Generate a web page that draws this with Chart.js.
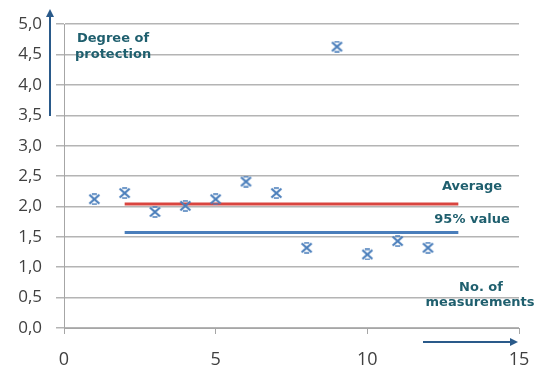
<!DOCTYPE html>
<html>
<head>
<meta charset="utf-8">
<script src="https://cdn.jsdelivr.net/npm/chart.js@4"></script>
<style>
  html, body { margin: 0; padding: 0; background: #fff; }
  #wrap { width: 538px; height: 374px; }
</style>
</head>
<body>
<div id="wrap"><canvas id="protectionChart" width="538" height="374"></canvas></div>
<script>
// values
const measurement_no = [1, 2, 3, 4, 5, 6, 7, 8, 9, 10, 11, 12]
const protection_degree = [2.12, 2.22, 1.91, 2.01, 2.12, 2.41, 2.22, 1.32, 4.63, 1.21, 1.43, 1.32]
const line_x = [2, 13]
const average_y = [2.04, 2.04]
const value_95_y = [1.57, 1.57]
const x_ticks = [0, 5, 10, 15]

const markerBlue = '#4a7ebb'
const textTeal = '#1f5f6e'

// excel style "star" marker: X with short bars top and bottom
function starMarker() {
  const c = document.createElement('canvas')
  c.width = 13; c.height = 12
  const g = c.getContext('2d')
  g.strokeStyle = markerBlue
  g.lineWidth = 2.2
  g.beginPath()
  g.moveTo(1.5, 1.5); g.lineTo(11.5, 10.5)
  g.moveTo(11.5, 1.5); g.lineTo(1.5, 10.5)
  g.stroke()
  g.lineWidth = 1.6
  g.beginPath()
  g.moveTo(4, 1); g.lineTo(9, 1)
  g.moveTo(4, 11); g.lineTo(9, 11)
  g.stroke()
  return c
}

const points = measurement_no.map(function(x, i){ return {x: x, y: protection_degree[i]} })
const averageLine = line_x.map(function(x, i){ return {x: x, y: average_y[i]} })
const value95Line = line_x.map(function(x, i){ return {x: x, y: value_95_y[i]} })

// arrows + annotation text
const annotations = {
  id: 'annotations',
  afterDraw: function(chart) {
    const ctx = chart.ctx
    ctx.save()
    ctx.strokeStyle = '#2a5a8a'
    ctx.fillStyle = '#2a5a8a'
    ctx.lineWidth = 2
    // vertical arrow
    ctx.beginPath(); ctx.moveTo(50, 116); ctx.lineTo(50, 16); ctx.stroke()
    ctx.beginPath(); ctx.moveTo(50, 9); ctx.lineTo(46, 17); ctx.lineTo(54, 17); ctx.closePath(); ctx.fill()
    // horizontal arrow
    ctx.beginPath(); ctx.moveTo(423, 342); ctx.lineTo(510, 342); ctx.stroke()
    ctx.beginPath(); ctx.moveTo(518, 342); ctx.lineTo(510, 338); ctx.lineTo(510, 346); ctx.closePath(); ctx.fill()

    ctx.fillStyle = textTeal
    ctx.font = 'bold 13px "DejaVu Sans", Verdana, sans-serif'
    ctx.textBaseline = 'middle'
    ctx.textAlign = 'left'
    ctx.fillText('Degree of', 77, 39)
    ctx.fillText('protection', 75, 55)
    ctx.textAlign = 'center'
    ctx.fillText('Average', 472, 187)
    ctx.fillText('95% value', 472, 220)
    ctx.fillText('No. of', 481, 288)
    ctx.fillText('measurements', 480, 303)
    ctx.restore()
  }
}

const protectionCanvas = document.getElementById('protectionChart');
new Chart(
  protectionCanvas,
  {
    type: 'scatter',
    data: {
      datasets: [
        {
          label: 'Degree of protection',
          data: points,
          pointStyle: starMarker(),
          showLine: false
        },
        {
          label: 'Average',
          type: 'line',
          data: averageLine,
          borderColor: '#d9453f',
          borderWidth: 3,
          pointRadius: 0,
          fill: false
        },
        {
          label: '95% value',
          type: 'line',
          data: value95Line,
          borderColor: '#4a7ebb',
          borderWidth: 3,
          pointRadius: 0,
          fill: false
        },
      ]
    },
    options: {
      responsive: false,
      animation: false,
      layout: { padding: { left: 0, top: 17, right: 19, bottom: 0 } },
      plugins: {
        legend: { display: false },
        tooltip: { enabled: false }
      },
      scales: {
        x: {
          type: 'linear',
          min: 0,
          max: 15,
          afterBuildTicks: function(scale) {
            scale.ticks = x_ticks.map(function(v){ return {value: v} })
          },
          afterFit: function(scale) {
            scale.height = 46
            scale.paddingRight = 10
            scale.paddingLeft = 0
          },
          grid: { drawOnChartArea: false, drawTicks: true, tickLength: 6, color: '#a6a6a6' },
          border: { color: '#a6a6a6', width: 1 },
          ticks: {
            color: '#404040',
            padding: 15,
            maxRotation: 0,
            font: { family: '"Open Sans", sans-serif', size: 18 }
          }
        },
        y: {
          min: 0,
          max: 5,
          afterFit: function(scale) { scale.width = 64 },
          grid: { color: '#b4b4b4', lineWidth: 1.5, tickLength: 8 },
          border: { color: '#a6a6a6', width: 1 },
          ticks: {
            stepSize: 0.5,
            color: '#404040',
            padding: 14,
            font: { family: '"Open Sans", sans-serif', size: 17 },
            callback: function(v) { return v.toFixed(1).replace('.', ',') }
          }
        }
      }
    },
    plugins: [annotations]
  }
);
</script>
</body>
</html>
